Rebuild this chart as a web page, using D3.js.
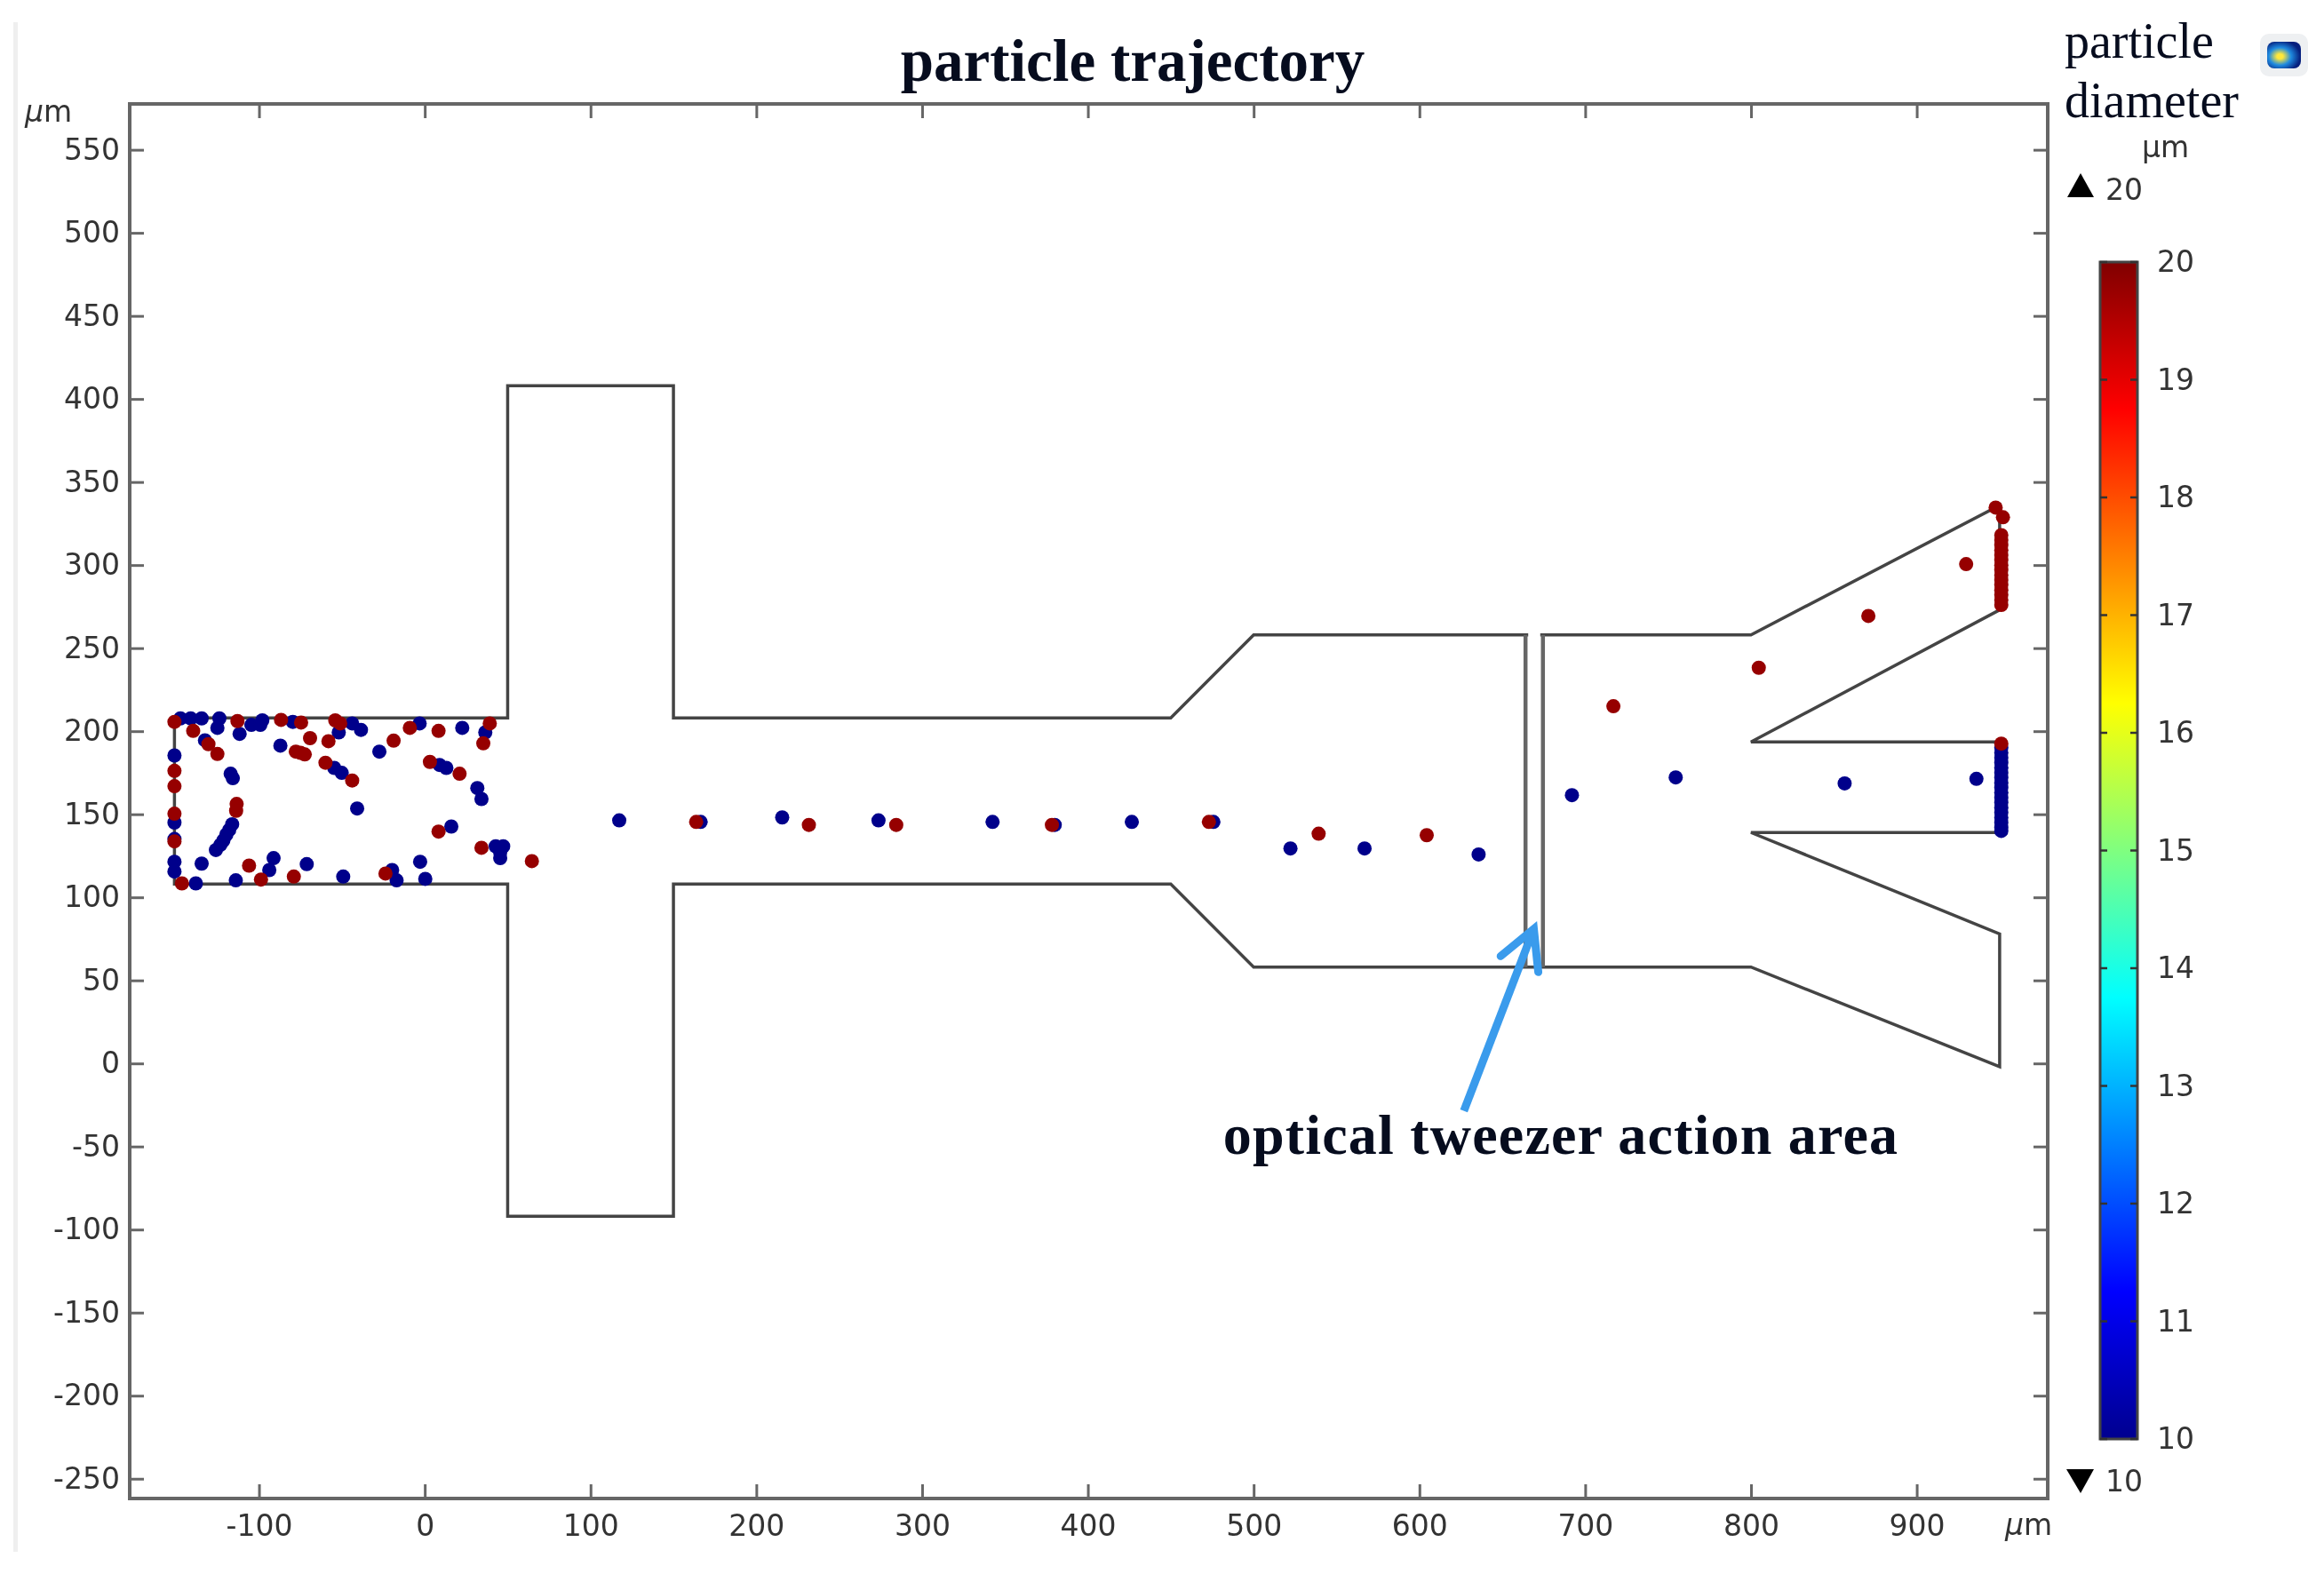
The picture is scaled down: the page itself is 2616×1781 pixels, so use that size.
<!DOCTYPE html>
<html>
<head>
<meta charset="utf-8">
<title>particle trajectory</title>
<script src="https://cdn.jsdelivr.net/npm/d3@7"></script>
<style>
    html, body { margin: 0; padding: 0; background: #fff; }
    svg { display: block; filter: blur(0.6px); }
    .tick-label { font-family: "DejaVu Sans"; font-size: 33px; fill: #333; }
    .serif-bold { font-family: "Liberation Serif"; font-weight: bold; fill: #060c1e; }
    .serif { font-family: "Liberation Serif"; fill: #060c1e; }
</style>
</head>
<body>
<div id="chart"></div>
<script>

// axis ticks (um)
const xTicks = [-100, 0, 100, 200, 300, 400, 500, 600, 700, 800, 900];
const yTicks = [-250, -200, -150, -100, -50, 0, 50, 100, 150, 200, 250, 300, 350, 400, 450, 500, 550];
const colorTicks = [10, 11, 12, 13, 14, 15, 16, 17, 18, 19, 20];

// channel outline [x, y] in um
const channelOutline = [
    [-151, 208], [50, 208], [50, 408], [150, 408], [150, 208], [450, 208], [500, 258], [800, 258],
    [950, 336], [950, 273], [800, 193.5], [950, 193.5], [950, 139], [800, 139], [950, 78], [950, -2],
    [800, 58], [500, 58], [450, 108], [150, 108], [150, -92], [50, -92], [50, 108], [-151, 108]
];
const tweezerLeft = [[664, 258], [664, 58]];
const tweezerRight = [[674.5, 258], [674.5, 58]];

// annotation arrow
const arrowShaft = [[626.8, -28.6], [669, 81]];
const arrowHead = [[649, 64.6], [669, 81], [671.7, 55]];

// 10 um particles
const blueParticles = [
    [-147.4, 207.7], [-141.2, 207.7], [-134.6, 207.7], [-123.9, 207.7], [-125.1, 202], [-111.7, 198.4],
    [-104.6, 203.8], [-99.2, 203.8], [-98, 206.5], [-79.6, 205.6], [-51.9, 199.3], [-43.8, 204.7],
    [-38.5, 200.8], [-3.1, 204.7], [22.6, 202], [36.5, 199.3], [-132.6, 194.5], [-87.1, 191.3],
    [-27.4, 187.7], [-151, 185.4], [-117.1, 174.4], [-115.8, 171.7], [-54.6, 177.9], [-50.1, 174.9],
    [8.9, 179.7], [13, 177.9], [31.7, 165.8], [34.2, 159.2], [-40.8, 153.5], [-151, 145],
    [-116.2, 144], [-118, 140.5], [-119.7, 137.8], [-121.5, 134.2], [-123.3, 131.6], [-126, 128.5],
    [-151, 135.1], [16, 142.6], [42.8, 130.7], [47.3, 130.7], [45.5, 127.1], [45.5, 123.6],
    [-151, 121.4], [-151, 115.5], [-134.6, 120.3], [-91.2, 123.6], [-93.8, 116.4], [-71.2, 120],
    [-2.8, 121.4], [-19.7, 116.4], [-17, 110.2], [0.3, 111.1], [-49.2, 112.5], [-138.1, 108.4],
    [-114, 110.2],
    // through the channel
    [117.3, 146.3], [166.4, 145.4], [215.6, 148.1], [273.7, 146.3], [342.5, 145.4], [380, 143.6],
    [426.5, 145.4], [475.7, 145.4], [522.2, 129.4], [566.9, 129.4], [635.7, 125.8], [692, 161.5],
    [754.6, 172.2], [856.5, 168.6], [936, 171.3],
    // piled up at the outlet
    [951, 190], [951, 187], [951, 184], [951, 181], [951, 178], [951, 175], [951, 172], [951, 169],
    [951, 166], [951, 163], [951, 160], [951, 157], [951, 154], [951, 151], [951, 148], [951, 145],
    [951, 142], [951, 140]
];

// 20 um particles
const redParticles = [
    [-151, 205.6], [-139.7, 200.2], [-130.5, 192.2], [-125.1, 186.3], [-113, 206.1], [-86.7, 206.8],
    [-74.6, 205.2], [-69.2, 195.8], [-58.1, 194], [-54, 206.5], [-51, 204.7], [-77.8, 187.7],
    [-75, 187], [-72.4, 186], [-59.9, 181], [-43.8, 170.3], [-18.8, 194.3], [-9, 202], [8.3, 200.2],
    [39.2, 204.7], [35.3, 192.7], [3.1, 181.5], [21, 174.4], [-151, 176.1], [-151, 166.9],
    [-113.5, 156.2], [-113.8, 152.1], [-151, 150.3], [-151, 133.7], [-146.5, 108.4], [-106, 119.1],
    [-98.8, 110.7], [-79, 112.5], [-23.7, 114.3], [8.3, 139.6], [34.2, 129.8], [64.6, 121.8],
    // through the channel
    [163.7, 145.4], [231.7, 143.6], [284.4, 143.6], [378.3, 143.6], [473, 145.4], [539.2, 138.3],
    [604.4, 137.4], [717, 215], [804.7, 238.2], [870.8, 269.4], [929.8, 300.6],
    // piled up at the outlet
    [947.6, 334.6], [952, 328.8], [951, 192.5],
    [951, 318], [951, 315], [951, 312], [951, 309], [951, 306], [951, 303], [951, 300], [951, 297],
    [951, 294], [951, 291], [951, 288], [951, 285], [951, 282], [951, 279], [951, 276]
];

// colour table of the legend, [diameter, colour]
const colorStops = [
    [10, "#00008f"], [11.25, "#0000ff"], [13.75, "#00ffff"], [16.25, "#ffff00"], [18.75, "#ff0000"], [20, "#800000"]
];

const width = 2616;
const height = 1781;

// plot frame in pixels, equal scale on both axes
const frame = {left: 146, right: 2305, top: 117, bottom: 1687};

const x = d3.scaleLinear().domain([-178, 979]).range([frame.left, frame.right]);
const y = d3.scaleLinear().domain([-261.9, 577.6]).range([frame.bottom, frame.top]);
const c = d3.scaleLinear().domain([10, 20]).range([1620, 295]);

const svg = d3.select("#chart").append("svg")
    .attr("width", width)
    .attr("height", height);

const defs = svg.append("defs");

// faint edge left over at the left of the figure
svg.append("rect")
    .attr("x", 15).attr("y", 25).attr("width", 5).attr("height", 1722)
    .attr("fill", "#efefef");

// axes, the opposite side only carries ticks
function styleAxis(g) {
    g.select(".domain").remove();
    g.selectAll(".tick line").attr("stroke", "#666").attr("stroke-width", 3);
    g.selectAll(".tick text").attr("class", "tick-label").attr("font-family", null).attr("font-size", null);
}

svg.append("g")
    .attr("transform", `translate(${frame.left},0)`)
    .call(d3.axisRight(y).tickValues(yTicks).tickSize(16).tickFormat(""))
    .call(styleAxis);
svg.append("g")
    .attr("transform", `translate(${frame.right},0)`)
    .call(d3.axisLeft(y).tickValues(yTicks).tickSize(16).tickFormat(""))
    .call(styleAxis);
svg.append("g")
    .attr("transform", `translate(0,${frame.top})`)
    .call(d3.axisBottom(x).tickValues(xTicks).tickSize(16).tickFormat(""))
    .call(styleAxis);
svg.append("g")
    .attr("transform", `translate(0,${frame.bottom})`)
    .call(d3.axisTop(x).tickValues(xTicks).tickSize(16).tickFormat(""))
    .call(styleAxis);

// tick labels keep a plain hyphen as in the picture
svg.append("g")
    .attr("transform", `translate(${frame.left},0)`)
    .call(d3.axisLeft(y).tickValues(yTicks).tickSize(0).tickPadding(11).tickFormat(d => String(d)))
    .call(styleAxis);
svg.append("g")
    .attr("transform", `translate(0,${frame.bottom})`)
    .call(d3.axisBottom(x).tickValues(xTicks).tickSize(0).tickPadding(19).tickFormat(d => String(d)))
    .call(styleAxis);

svg.append("rect")
    .attr("x", frame.left).attr("y", frame.top)
    .attr("width", frame.right - frame.left).attr("height", frame.bottom - frame.top)
    .attr("fill", "none")
    .attr("stroke", "#666")
    .attr("stroke-width", 4);

// channel geometry
const line = d3.line().x(d => x(d[0])).y(d => y(d[1]));

svg.append("path")
    .attr("d", line(channelOutline) + "Z")
    .attr("fill", "none")
    .attr("stroke", "#444")
    .attr("stroke-width", 3.5);

[tweezerLeft, tweezerRight].forEach(d => {
    svg.append("path")
        .attr("d", line(d))
        .attr("fill", "none")
        .attr("stroke", "#666")
        .attr("stroke-width", 4.5);
});

// white gap in the top wall between the two tweezer lines
svg.append("line")
    .attr("x1", x(664) + 3).attr("x2", x(674.5) - 3)
    .attr("y1", y(258)).attr("y2", y(258))
    .attr("stroke", "#fff").attr("stroke-width", 6);

// particles
svg.selectAll(".blue").data(blueParticles).enter()
    .append("circle")
    .attr("class", "blue")
    .attr("cx", d => x(d[0]))
    .attr("cy", d => y(d[1]))
    .attr("r", 8)
    .attr("fill", "#00008b");

svg.selectAll(".red").data(redParticles).enter()
    .append("circle")
    .attr("class", "red")
    .attr("cx", d => x(d[0]))
    .attr("cy", d => y(d[1]))
    .attr("r", 8)
    .attr("fill", "#960000");

// arrow
svg.append("path")
    .attr("d", line(arrowShaft))
    .attr("fill", "none")
    .attr("stroke", "#3a9bec")
    .attr("stroke-width", 9);
svg.append("path")
    .attr("d", line(arrowHead))
    .attr("fill", "none")
    .attr("stroke", "#3a9bec")
    .attr("stroke-width", 9)
    .attr("stroke-linecap", "round");

// titles
svg.append("text")
    .attr("class", "serif-bold")
    .attr("x", 1275).attr("y", 91)
    .attr("text-anchor", "middle")
    .attr("font-size", 67)
    .text("particle trajectory");

svg.append("text")
    .attr("class", "serif-bold")
    .attr("x", 1757).attr("y", 1299)
    .attr("text-anchor", "middle")
    .attr("font-size", 64)
    .attr("letter-spacing", 1.2)
    .text("optical tweezer action area");

svg.append("text").attr("class", "serif")
    .attr("x", 2324).attr("y", 65).attr("font-size", 56).text("particle");
svg.append("text").attr("class", "serif")
    .attr("x", 2324).attr("y", 132).attr("font-size", 56).text("diameter");

// axis units
[[28, 137], [2257, 1728]].forEach(d => {
    const unit = svg.append("text").attr("class", "tick-label").attr("x", d[0]).attr("y", d[1]);
    unit.append("tspan").attr("font-style", "italic").text("µ");
    unit.append("tspan").text("m");
});

// colour legend
const gradient = defs.append("linearGradient")
    .attr("id", "rainbow")
    .attr("x1", 0).attr("x2", 0).attr("y1", 1).attr("y2", 0);
gradient.selectAll("stop").data(colorStops).enter().append("stop")
    .attr("offset", d => (d[0] - 10) / 10)
    .attr("stop-color", d => d[1]);

svg.append("rect")
    .attr("x", 2364).attr("y", c(20))
    .attr("width", 42).attr("height", c(10) - c(20))
    .attr("fill", "url(#rainbow)")
    .attr("stroke", "#444")
    .attr("stroke-width", 3);

[[2364, 8], [2406, -8]].forEach(d => {
    svg.append("g")
        .selectAll("line").data(colorTicks).enter().append("line")
        .attr("x1", d[0]).attr("x2", d[0] + d[1])
        .attr("y1", t => c(t)).attr("y2", t => c(t))
        .attr("stroke", "#333")
        .attr("stroke-width", 2.5);
});

svg.append("g")
    .selectAll("text").data(colorTicks).enter().append("text")
    .attr("class", "tick-label")
    .attr("x", 2428)
    .attr("y", t => c(t))
    .attr("dy", "0.34em")
    .text(t => t);

svg.append("text").attr("class", "tick-label").attr("x", 2411).attr("y", 177).text("µm");

// max and min markers
svg.append("path").attr("d", "M2342,195L2357,222L2327,222Z").attr("fill", "#000");
svg.append("text").attr("class", "tick-label").attr("x", 2370).attr("y", 225).text("20");
svg.append("path").attr("d", "M2326,1654L2357,1654L2342,1681Z").attr("fill", "#000");
svg.append("text").attr("class", "tick-label").attr("x", 2370).attr("y", 1679).text("10");

// small colour legend icon at the top right
const iconGradient = defs.append("radialGradient").attr("id", "icon").attr("cx", 0.38).attr("cy", 0.55).attr("r", 0.6);
iconGradient.append("stop").attr("offset", 0.15).attr("stop-color", "#ffe83a");
iconGradient.append("stop").attr("offset", 0.55).attr("stop-color", "#1f8be0");
iconGradient.append("stop").attr("offset", 1).attr("stop-color", "#06207e");

svg.append("rect")
    .attr("x", 2544).attr("y", 38).attr("width", 54).attr("height", 48).attr("rx", 10)
    .attr("fill", "#eef0f2");
svg.append("rect")
    .attr("x", 2552).attr("y", 47).attr("width", 38).attr("height", 30).attr("rx", 8)
    .attr("fill", "url(#icon)");

</script>
</body>
</html>
